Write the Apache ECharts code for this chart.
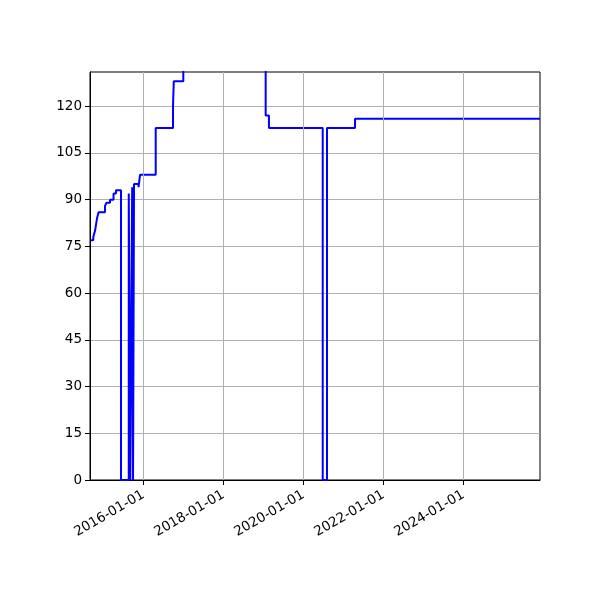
<!DOCTYPE html>
<html>
<head>
<meta charset="utf-8">
<script src="https://cdn.jsdelivr.net/npm/echarts@6/dist/echarts.min.js"></script>
<style>html,body{margin:0;padding:0;background:#fff;}#c{width:600px;height:600px;}</style>
</head>
<body>
<div id="c"></div>
<script>
// Step series: each date starts a new level that holds until the next date
const dates = [
  '2014-09-10','2014-10-01','2014-10-17','2014-10-26','2014-11-04','2014-11-18',
  '2015-01-16','2015-01-30','2015-03-03','2015-04-04','2015-04-26','2015-06-11',
  '2015-08-21','2015-09-04','2015-09-21','2015-09-29','2015-10-08','2015-11-18','2015-12-02',
  '2016-04-23','2016-09-28','2016-10-05','2016-12-31','2019-01-22','2019-02-21',
  '2020-06-26','2020-08-04','2021-04-17','2025-12-01'
];
const values = [
  77, 78, 80, 82, 84, 86,
  88, 89, 90, 92, 93, 0,
  92, 0, 94, 0, 95, 94, 98,
  113, 120, 128, 150, 117, 113,
  0, 113, 116, 116
];
const xTickDates = ['2016-01-01','2018-01-01','2020-01-01','2022-01-01','2024-01-01'];
const xRange = ['2014-09-01', '2025-12-01'];
const yTicks = [0, 15, 30, 45, 60, 75, 90, 105, 120];

const toTs = s => Date.UTC(+s.slice(0,4), +s.slice(5,7) - 1, +s.slice(8,10));
const fmt = v => { const d = new Date(v); const p = n => String(n).padStart(2, '0');
  return d.getUTCFullYear() + '-' + p(d.getUTCMonth() + 1) + '-' + p(d.getUTCDate()); };
const chart = echarts.init(document.getElementById('c'));
const font = 'DejaVu Sans';
chart.setOption({
  animation: false,
  grid: {left: 90, right: 60, top: 72, bottom: 120, show: true, borderColor: '#000', borderWidth: 1, backgroundColor: 'transparent'},
  xAxis: {
    type: 'value',
    min: toTs(xRange[0]),
    max: toTs(xRange[1]),
    axisLine: {show: true, onZero: false, lineStyle: {color: '#000', width: 1}},
    axisTick: {show: true, inside: false, length: 5, lineStyle: {color: '#000'}, customValues: xTickDates.map(toTs)},
    axisLabel: {
      customValues: xTickDates.map(toTs),
      rotate: 30, color: '#000', fontFamily: font, fontSize: 13.5, margin: 14,
      formatter: fmt
    },
    splitLine: {show: false}
  },
  yAxis: {
    type: 'value', min: 0, max: 131, interval: 15,
    axisLine: {show: true, lineStyle: {color: '#000', width: 1}},
    axisTick: {show: true, inside: false, length: 5, lineStyle: {color: '#000'}, customValues: yTicks},
    axisLabel: {customValues: yTicks, color: '#000', fontFamily: font, fontSize: 13.5, margin: 8},
    splitLine: {show: true, lineStyle: {color: '#b0b0b0', width: 1}}
  },
  series: [
    {
      type: 'line', data: [], z: 1, silent: true,
      markLine: {
        silent: true, symbol: ['none', 'none'], animation: false,
        label: {show: false},
        lineStyle: {color: '#b0b0b0', width: 1, type: 'solid'},
        emphasis: {disabled: true},
        data: xTickDates.map(d => ({xAxis: toTs(d)}))
      }
    },
    {
      type: 'line', z: 3, step: 'end', showSymbol: false, clip: true,
      lineStyle: {color: '#0000ff', width: 2},
      itemStyle: {color: '#0000ff'},
      data: dates.map((d, i) => [toTs(d), values[i]])
    }
  ]
});
</script>
</body>
</html>
